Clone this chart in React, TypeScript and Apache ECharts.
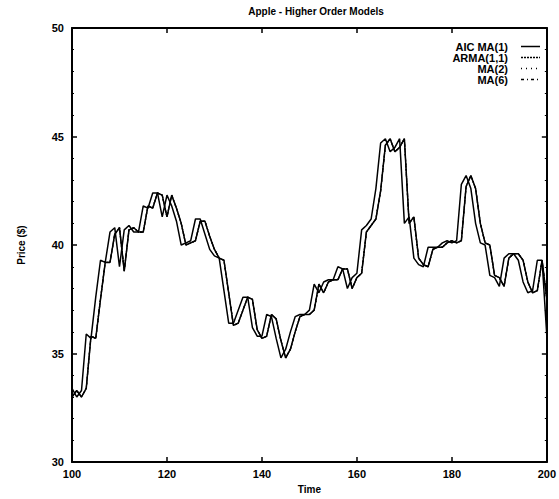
import React, { useEffect, useRef } from "react";
import * as echarts from "echarts";

const startTime = 100;
const xTicks = [100, 120, 140, 160, 180, 200];
const yTicks = [30, 35, 40, 45, 50];

const price = [
  33.4, 33.0, 33.3, 35.9, 35.7, 37.6, 39.3, 39.2, 40.6, 40.8,
  39.0, 40.7, 40.9, 40.6, 40.6, 41.8, 41.7, 42.4, 42.4, 41.3,
  42.3, 41.8, 41.1, 40.0, 40.1, 40.2, 41.2, 41.2, 40.5, 39.8,
  39.5, 39.4, 37.9, 36.4, 36.4, 37.0, 37.6, 37.6, 36.2, 35.8,
  35.8, 36.8, 36.7, 35.7, 34.8, 35.2, 36.0, 36.7, 36.8, 36.8,
  37.0, 38.2, 37.8, 38.3, 38.4, 38.4, 39.0, 38.9, 38.0, 38.5,
  38.7, 40.7, 40.9, 41.2, 42.6, 44.7, 44.9, 44.3, 44.5, 44.9,
  41.0, 41.3, 39.4, 39.1, 39.0, 39.9, 39.9, 39.9, 40.1, 40.2,
  40.1, 40.2, 42.8, 43.2, 42.6, 41.0, 40.1, 40.0, 38.6, 38.5,
  38.1, 39.4, 39.6, 39.6, 39.3, 38.3, 37.8, 37.9, 39.3, 39.3,
  35.8,
];

const forecast = [
  33.0, 33.3, 33.0, 33.4, 35.8, 35.7, 37.5, 39.2, 39.2, 40.5,
  40.8, 38.8, 40.7, 40.8, 40.6, 40.6, 41.8, 41.7, 42.4, 42.3,
  41.3, 42.3, 41.7, 41.0, 40.0, 40.1, 40.2, 41.1, 41.1, 40.4,
  39.8, 39.4, 39.3, 37.8, 36.3, 36.4, 37.0, 37.6, 37.5, 36.1,
  35.7, 35.8, 36.8, 36.6, 35.6, 34.8, 35.2, 36.0, 36.7, 36.8,
  36.8, 37.0, 38.2, 37.8, 38.3, 38.4, 38.4, 38.9, 38.9, 38.0,
  38.5, 38.7, 40.6, 40.9, 41.2, 42.5, 44.6, 44.9, 44.3, 44.5,
  44.9, 41.0, 41.3, 39.4, 39.1, 39.0, 39.8, 39.9, 39.9, 40.1,
  40.2, 40.1, 40.2, 42.7, 43.2, 42.6, 41.0, 40.1, 40.0, 38.6,
  38.5, 38.1, 39.4, 39.6, 39.6, 39.3, 38.3, 37.8, 37.9, 39.3,
  37.5,
];

const modelNames = ["AIC MA(1)", "ARMA(1,1)", "MA(2)", "MA(6)"];
const modelDash: any[] = ["solid", [2, 1], [1, 4], [3, 3, 1, 3]];

const FONT = "'Liberation Sans Narrow', 'Liberation Sans', Arial, sans-serif";

export default function App() {
  const ref = useRef<HTMLDivElement>(null);
  useEffect(() => {
    if (!ref.current) return;
    const chart = echarts.init(ref.current, undefined, { renderer: "svg" });
    const toPairs = (arr: number[]) => arr.map((v, i) => [startTime + i, v]);
    const axisCommon = {
      axisLine: { show: true, lineStyle: { color: "#000", width: 2 } },
      axisTick: { show: true, inside: true, length: 5, lineStyle: { color: "#000", width: 1.5 } },
      splitLine: { show: false },
    };
    const series: any[] = [
      {
        name: "Price",
        type: "line",
        data: toPairs(price),
        symbol: "none",
        lineStyle: { color: "#000", width: 1.5 },
        xAxisIndex: 0,
        yAxisIndex: 0,
      },
      ...modelNames.map((n, k) => ({
        name: n,
        type: "line",
        data: toPairs(forecast),
        symbol: "none",
        itemStyle: { color: "#000" },
        lineStyle: { color: "#000", width: k === 0 ? 1.5 : 1.2, type: modelDash[k] },
        xAxisIndex: 0,
        yAxisIndex: 0,
      })),
    ];
    const legendTop = 41;
    const rowH = 11;
    const legendSamples = modelNames.map((n, k) => ({
      type: "line",
      shape: { x1: 521, y1: legendTop + rowH / 2 + rowH * k, x2: 540, y2: legendTop + rowH / 2 + rowH * k },
      style: { stroke: "#000", lineWidth: 1.5, lineDash: k === 0 ? null : modelDash[k] },
      silent: true,
    }));
    chart.setOption({
      animation: false,
      backgroundColor: "#fff",
      title: {
        text: "Apple - Higher Order Models",
        left: 311,
        textAlign: "center",
        top: 1,
        textStyle: { fontFamily: FONT, fontSize: 10, fontWeight: "bold", color: "#000" },
      },
      legend: {
        data: modelNames.map((n) => ({ name: n, icon: "none" })),
        orient: "vertical",
        right: 46,
        top: legendTop,
        align: "right",
        itemWidth: 0,
        itemHeight: rowH,
        itemGap: 0,
        padding: 0,
        textStyle: {
          fontFamily: FONT,
          fontSize: 11,
          lineHeight: rowH,
          fontWeight: "bold",
          color: "#000",
          padding: [0, 0, 0, 0],
        },
      },
      graphic: legendSamples,
      grid: { left: 72, right: 8, top: 28, bottom: 33, containLabel: false },
      xAxis: [
        {
          type: "value",
          min: xTicks[0],
          max: xTicks[xTicks.length - 1],
          interval: xTicks[1] - xTicks[0],
          ...axisCommon,
          axisLabel: { color: "#000", fontFamily: FONT, fontSize: 11, fontWeight: "bold", margin: 6 },
          name: "Time",
          nameLocation: "middle",
          nameGap: 20,
          nameTextStyle: { color: "#000", fontFamily: FONT, fontSize: 10, fontWeight: "bold" },
        },
        {
          type: "value",
          position: "top",
          min: xTicks[0],
          max: xTicks[xTicks.length - 1],
          interval: xTicks[1] - xTicks[0],
          ...axisCommon,
          axisLabel: { show: false },
        },
      ],
      yAxis: [
        {
          type: "value",
          min: yTicks[0],
          max: yTicks[yTicks.length - 1],
          interval: yTicks[1] - yTicks[0],
          ...axisCommon,
          minorTick: { show: true, splitNumber: 5, length: 2, lineStyle: { color: "#000" } },
          axisLabel: { color: "#000", fontFamily: FONT, fontSize: 11, fontWeight: "bold", margin: 8 },
          name: "Price ($)",
          nameLocation: "middle",
          nameGap: 46,
          nameRotate: 90,
          nameTextStyle: { color: "#000", fontFamily: FONT, fontSize: 10, fontWeight: "bold" },
        },
        {
          type: "value",
          position: "right",
          min: yTicks[0],
          max: yTicks[yTicks.length - 1],
          interval: yTicks[1] - yTicks[0],
          ...axisCommon,
          minorTick: { show: true, splitNumber: 5, length: 2, lineStyle: { color: "#000" } },
          axisLabel: { show: false },
        },
      ],
      series,
    });
    return () => chart.dispose();
  }, []);
  return <div ref={ref} style={{ width: 559, height: 499, position: "absolute", left: 0, top: 0 }} />;
}
